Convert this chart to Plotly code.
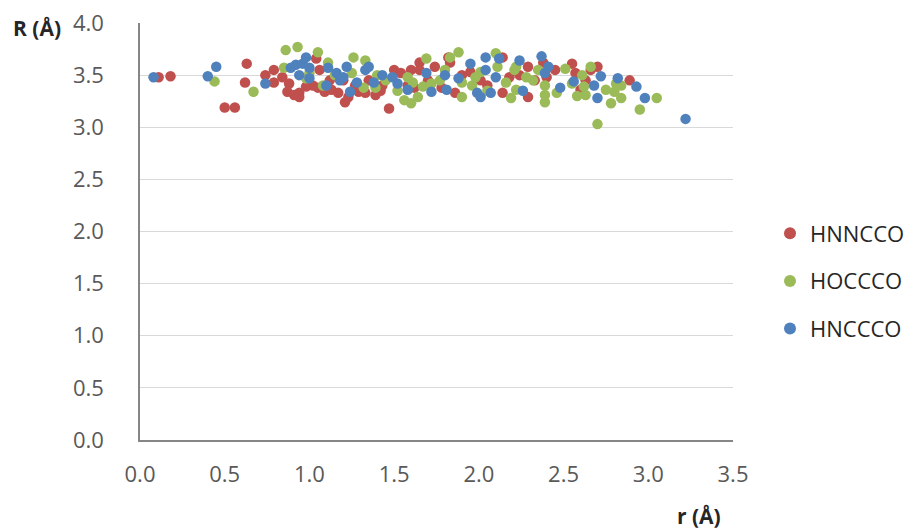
import plotly.graph_objects as go

# HNNCCO (red)
hnncco_r = [0.11, 0.18, 0.50, 0.56, 0.63, 0.62, 0.74, 0.79, 0.79, 0.88, 0.87, 0.91, 0.94, 0.94,
            1.04, 1.06, 1.02, 0.98, 1.05, 1.13, 1.17, 1.21, 1.20, 1.09, 1.23, 1.29, 1.33, 1.39,
            1.43, 1.47, 1.50, 1.54, 1.60, 1.65, 1.65, 1.74, 1.82, 1.83, 1.86, 1.95, 2.01, 2.14,
            2.14, 2.18, 2.24, 2.29, 2.29, 2.38, 2.55, 2.57, 2.60, 2.70, 2.89,
            1.35, 1.27, 1.58, 1.70, 1.78, 1.90, 2.05, 2.40, 2.45, 2.63, 2.66, 0.84, 1.12, 1.42,
            1.62, 2.33]
hnncco_R = [3.48, 3.49, 3.19, 3.19, 3.61, 3.43, 3.50, 3.55, 3.43, 3.42, 3.34, 3.31, 3.33, 3.29,
            3.66, 3.55, 3.40, 3.39, 3.38, 3.36, 3.33, 3.24, 3.45, 3.34, 3.29, 3.34, 3.33, 3.31,
            3.40, 3.18, 3.55, 3.52, 3.55, 3.62, 3.55, 3.58, 3.67, 3.62, 3.33, 3.53, 3.45, 3.67,
            3.33, 3.48, 3.50, 3.58, 3.29, 3.62, 3.61, 3.52, 3.36, 3.58, 3.45,
            3.45, 3.40, 3.40, 3.45, 3.38, 3.50, 3.40, 3.48, 3.55, 3.45, 3.55, 3.48, 3.45, 3.35,
            3.38, 3.45]

# HOCCCO (green)
hoccco_r = [0.44, 0.67, 0.86, 0.93, 1.05, 0.85, 0.98, 1.11, 1.08, 1.26, 1.33, 1.32, 1.39, 1.56,
            1.60, 1.64, 1.61, 1.67, 1.69, 1.83, 1.88, 1.77, 1.90, 1.90, 1.96, 2.01, 2.10, 2.11,
            2.16, 2.19, 2.21, 2.22, 2.22, 2.32, 2.39, 2.39, 2.39, 2.46, 2.51, 2.66, 2.61, 2.62,
            2.63, 2.70, 2.78, 2.80, 2.84, 2.84, 2.81, 2.95, 3.05,
            1.15, 1.25, 1.45, 1.52, 1.58, 1.72, 1.80, 1.98, 2.05, 2.28, 2.55, 2.58, 1.00, 2.75,
            1.40, 2.35]
hoccco_R = [3.44, 3.34, 3.74, 3.77, 3.72, 3.57, 3.47, 3.62, 3.40, 3.67, 3.64, 3.38, 3.38, 3.26,
            3.23, 3.29, 3.43, 3.39, 3.66, 3.67, 3.72, 3.45, 3.29, 3.43, 3.40, 3.53, 3.71, 3.58,
            3.43, 3.28, 3.55, 3.36, 3.58, 3.45, 3.40, 3.31, 3.24, 3.33, 3.56, 3.58, 3.50, 3.39,
            3.31, 3.03, 3.23, 3.34, 3.40, 3.28, 3.42, 3.17, 3.28,
            3.50, 3.52, 3.45, 3.35, 3.48, 3.42, 3.55, 3.48, 3.35, 3.48, 3.42, 3.30, 3.52, 3.36,
            3.50, 3.55]

# HNCCCO (blue)
hnccco_r = [0.08, 0.40, 0.45, 0.74, 0.89, 0.92, 0.96, 0.98, 1.00, 1.00, 0.94, 1.10, 1.11, 1.16,
            1.18, 1.22, 1.20, 1.24, 1.28, 1.33, 1.35, 1.38, 1.43, 1.49, 1.52, 1.58, 1.69, 1.72,
            1.80, 1.81, 1.88, 1.95, 1.99, 2.01, 2.04, 2.04, 2.07, 2.10, 2.12, 2.24, 2.26, 2.37,
            2.41, 2.39, 2.48, 2.56, 2.68, 2.70, 2.72, 2.82, 2.93, 2.98, 3.22]
hnccco_R = [3.48, 3.49, 3.58, 3.42, 3.57, 3.60, 3.61, 3.67, 3.57, 3.47, 3.50, 3.40, 3.57, 3.52,
            3.45, 3.58, 3.48, 3.34, 3.43, 3.55, 3.58, 3.43, 3.50, 3.48, 3.42, 3.36, 3.52, 3.34,
            3.50, 3.36, 3.47, 3.61, 3.33, 3.29, 3.67, 3.55, 3.33, 3.48, 3.66, 3.64, 3.35, 3.68,
            3.58, 3.52, 3.38, 3.44, 3.40, 3.28, 3.49, 3.47, 3.39, 3.28, 3.08]

x_ticks = [0.0, 0.5, 1.0, 1.5, 2.0, 2.5, 3.0, 3.5]
y_ticks = [0.0, 0.5, 1.0, 1.5, 2.0, 2.5, 3.0, 3.5, 4.0]

series = [
    ("HNNCCO", hnncco_r, hnncco_R, "#C0504D"),
    ("HOCCCO", hoccco_r, hoccco_R, "#9BBB59"),
    ("HNCCCO", hnccco_r, hnccco_R, "#4F81BD"),
]

FONT = "Open Sans"
L, R_, T, B = 140, 179, 23, 91
W, H = 912, 531
pw, ph = W - L - R_, H - T - B

def px_x(x):
    return (x - L) / pw

def px_y(y):
    return (H - B - y) / ph

fig = go.Figure()
for name, xs, ys, col in series:
    fig.add_trace(go.Scatter(
        x=xs, y=ys, mode="markers", name=name, legendgroup=name,
        marker=dict(size=10.5, color=col, line=dict(width=0)),
    ))

fig.update_layout(
    width=W, height=H,
    margin=dict(l=L, r=R_, t=T, b=B, autoexpand=False),
    paper_bgcolor="white", plot_bgcolor="white",
    font=dict(family=FONT, size=22, color="#595959"),
    showlegend=True,
    legend=dict(x=px_x(770), xanchor="left", y=px_y(281), yanchor="middle",
                font=dict(family=FONT, size=22, color="#262626"),
                tracegroupgap=16, traceorder="grouped",
                itemsizing="constant", itemwidth=30, bgcolor="rgba(0,0,0,0)"),
    xaxis=dict(range=[0, 3.5], tickvals=x_ticks, ticktext=[f"{v:.1f}" for v in x_ticks],
               showgrid=False, zeroline=False, showline=True, linecolor="#868686",
               linewidth=1.5, ticks="outside", ticklen=14, tickcolor="rgba(0,0,0,0)",
               tickfont=dict(family=FONT, size=22, color="#595959")),
    yaxis=dict(range=[0, 4.0], tickvals=y_ticks, ticktext=[f"{v:.1f}" for v in y_ticks],
               showgrid=True, gridcolor="#D9D9D9", gridwidth=1, zeroline=False,
               showline=True, linecolor="#868686", linewidth=1.5,
               ticks="outside", ticklen=30, tickcolor="rgba(0,0,0,0)",
               tickfont=dict(family=FONT, size=22, color="#595959")),
    annotations=[
        dict(text="<b>R (Å)</b>", x=px_x(11), y=px_y(28), xref="paper", yref="paper",
             xanchor="left", yanchor="middle", showarrow=False,
             font=dict(family=FONT, size=21, color="#262626")),
        dict(text="<b>r (Å)</b>", x=px_x(723), y=px_y(516), xref="paper", yref="paper",
             xanchor="right", yanchor="middle", showarrow=False,
             font=dict(family=FONT, size=21, color="#262626")),
    ],
)

fig.write_html("out.html")
